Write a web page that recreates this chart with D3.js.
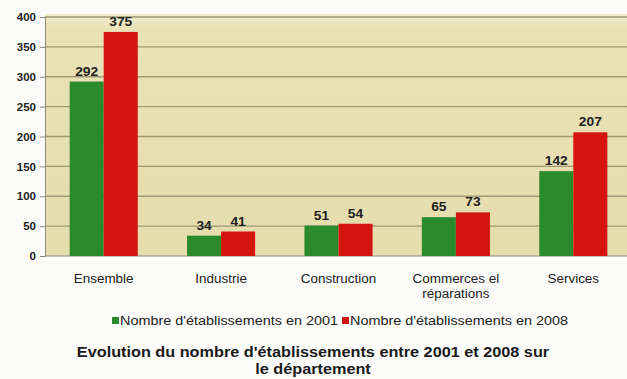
<!DOCTYPE html>
<html>
<head>
<meta charset="utf-8">
<script src="https://cdn.jsdelivr.net/npm/d3@7"></script>
<style>
  html, body { margin: 0; padding: 0; background: #fbfbf9; }
  svg { display: block; font-family: "Liberation Sans", Arial, sans-serif; }
</style>
</head>
<body>
<svg id="chart" width="627" height="379"></svg>
<script>
// Establishment counts by sector, 2001 vs 2008
const categories = ["Ensemble", "Industrie", "Construction", "Commerces et réparations", "Services"];
const categoryLines = [["Ensemble"], ["Industrie"], ["Construction"], ["Commerces el", "réparations"], ["Services"]];
const values2001 = [292, 34, 51, 65, 142];
const values2008 = [375, 41, 54, 73, 207];
const seriesNames = ["Nombre d'établissements en 2001", "Nombre d'établissements en 2008"];
const yTicks = [0, 50, 100, 150, 200, 250, 300, 350, 400];

const svg = d3.select("#chart");
const plotLeft = 45, plotRight = 632, plotTop = 17, plotBottom = 256;

// widen a text node horizontally by a factor, keeping its height
function stretch(sel, k) {
  sel.each(function () {
    const w = this.getComputedTextLength();
    d3.select(this).attr("textLength", w * k).attr("lengthAdjust", "spacingAndGlyphs");
  });
}

const defs = svg.append("defs");
const grad = defs.append("linearGradient").attr("id", "bg").attr("x1", 0).attr("y1", 0).attr("x2", 0).attr("y2", 1);
grad.append("stop").attr("offset", "0").attr("stop-color", "#f1edcf");
grad.append("stop").attr("offset", "0.06").attr("stop-color", "#e9e2b6");
grad.append("stop").attr("offset", "1").attr("stop-color", "#e6ddad");

const x = d3.scaleBand().domain(categories).range([plotLeft, plotRight]).paddingInner(0.42).paddingOuter(0.21);
const xs = d3.scaleBand().domain([0, 1]).range([0, x.bandwidth()]);
const y = d3.scaleLinear().domain([0, 400]).range([plotBottom, plotTop]);

// plot background
svg.append("rect").attr("x", plotLeft).attr("y", plotTop - 3).attr("width", 627 - plotLeft).attr("height", plotBottom - plotTop + 3)
  .attr("fill", "url(#bg)");

// gridlines
svg.append("g").selectAll("line").data(yTicks.filter(d => d > 0)).join("line")
  .attr("x1", plotLeft).attr("x2", 627)
  .attr("y1", d => y(d)).attr("y2", d => y(d))
  .attr("stroke", "#9f9872").attr("stroke-width", 1.3);

// y axis
const yAxis = svg.append("g").attr("transform", `translate(${plotLeft},0)`)
  .call(d3.axisLeft(y).tickValues(yTicks).tickSize(5).tickPadding(4));
yAxis.select(".domain").attr("stroke", "#8a8a80");
yAxis.selectAll(".tick line").attr("stroke", "#8a8a80");
yAxis.selectAll("text").attr("font-size", 11.5).attr("fill", "#222").attr("font-weight", "bold");

// x baseline
svg.append("line").attr("x1", plotLeft).attr("x2", 627).attr("y1", plotBottom).attr("y2", plotBottom)
  .attr("stroke", "#8a8a80");

const colors = ["#2b8a2b", "#d4140e"];
const series = [values2001, values2008];

series.forEach((vals, si) => {
  const g = svg.append("g");
  g.selectAll("rect").data(vals).join("rect")
    .attr("x", (d, i) => x(categories[i]) + xs(si))
    .attr("y", d => y(d))
    .attr("width", xs.bandwidth())
    .attr("height", d => y(0) - y(d))
    .attr("fill", colors[si]);
  g.selectAll("text").data(vals).join("text")
    .attr("x", (d, i) => x(categories[i]) + xs(si) + xs.bandwidth() / 2)
    .attr("y", d => y(d) - 6)
    .attr("text-anchor", "middle")
    .attr("font-size", 12)
    .attr("font-weight", "bold")
    .attr("fill", "#222")
    .text(d => d)
    .call(stretch, 1.15);
});

// category labels
categories.forEach((c, i) => {
  const cx = x(c) + x.bandwidth() / 2;
  const t = svg.append("text")
    .attr("y", 283)
    .attr("text-anchor", "middle")
    .attr("font-size", 12)
    .attr("fill", "#222");
  categoryLines[i].forEach((line, li) => {
    t.append("tspan").attr("x", cx).attr("dy", li === 0 ? 0 : 15).text(line).call(stretch, 1.12);
  });
});

// legend
const legend = svg.append("g").attr("font-size", 12).attr("fill", "#222");
const legendItems = [{ x: 112, name: seriesNames[0], c: colors[0] }, { x: 342, name: seriesNames[1], c: colors[1] }];
legendItems.forEach(it => {
  legend.append("rect").attr("x", it.x).attr("y", 317).attr("width", 7).attr("height", 7).attr("fill", it.c);
  legend.append("text").attr("x", it.x + 8).attr("y", 325).text(it.name).call(stretch, 1.2);
});

// title
const title = svg.append("text").attr("text-anchor", "middle").attr("font-size", 14.5)
  .attr("font-weight", "bold").attr("fill", "#1a1a1a");
title.append("tspan").attr("x", 313).attr("y", 357).text("Evolution du nombre d'établissements entre 2001 et 2008 sur").call(stretch, 1.12);
title.append("tspan").attr("x", 313).attr("y", 374).text("le département").call(stretch, 1.12);
</script>
</body>
</html>
